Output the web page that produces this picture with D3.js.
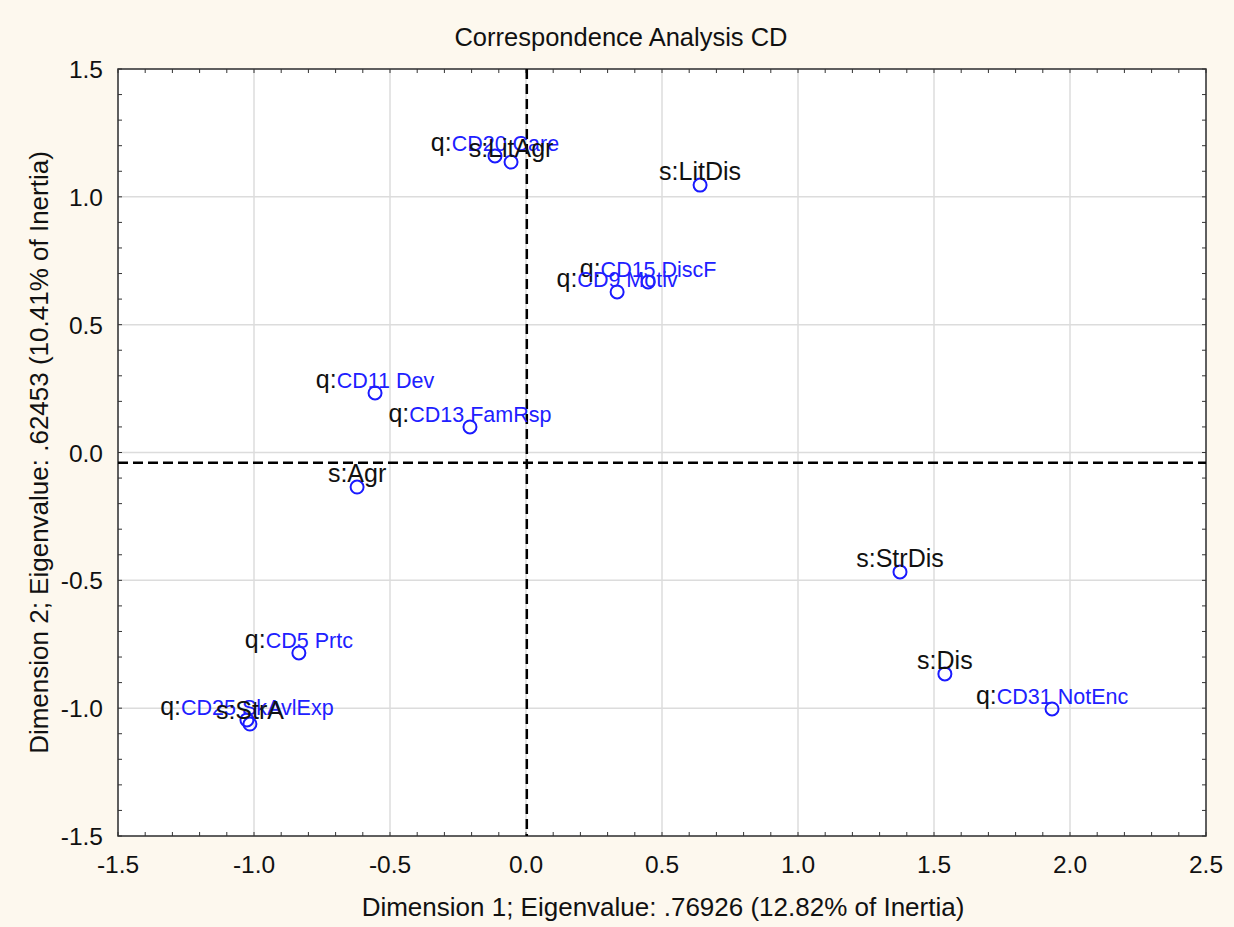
<!DOCTYPE html>
<html>
<head>
<meta charset="utf-8">
<script src="https://cdn.jsdelivr.net/npm/d3@7"></script>
<style>
  body { margin: 0; background: #fdf8ee; }
  svg { display: block; font-family: "Liberation Sans", Arial, sans-serif; }
</style>
</head>
<body>
<svg id="chart" width="1234" height="927"></svg>
<script>
'use strict';

// points: prefix, name, dim1, dim2
var prefixes = ['q:', 's:', 's:', 'q:', 'q:', 'q:', 'q:', 's:', 's:', 's:', 'q:', 'q:', 'q:', 's:'];
var names = ['CD20 Care', 'LitAgr', 'LitDis', 'CD15 DiscF', 'CD9 Motiv', 'CD11 Dev', 'CD13 FamRsp',
  'Agr', 'StrDis', 'Dis', 'CD31 NotEnc', 'CD5 Prtc', 'CD25 SkAvlExp', 'StrA'];
var dim1 = [-0.114, -0.055, 0.640, 0.449, 0.335, -0.555, -0.206, -0.621, 1.375, 1.540, 1.934, -0.835, -1.026, -1.015];
var dim2 = [1.160, 1.136, 1.046, 0.667, 0.628, 0.233, 0.100, -0.135, -0.467, -0.866, -1.003, -0.784, -1.046, -1.062];

var xTicks = [-1.5, -1.0, -0.5, 0.0, 0.5, 1.0, 1.5, 2.0, 2.5];
var yTicks = [-1.5, -1.0, -0.5, 0.0, 0.5, 1.0, 1.5];
var refX = 0.003, refY = -0.040;

(function() {
var svg = d3.select('#chart');
var pLeft = 118, pRight = 1206, pTop = 69, pBottom = 836;

var x = d3.scaleLinear().domain([-1.5, 2.5]).range([pLeft, pRight]);
var y = d3.scaleLinear().domain([-1.5, 1.5]).range([pBottom, pTop]);

svg.append('rect')
  .attr('x', pLeft).attr('y', pTop)
  .attr('width', pRight - pLeft).attr('height', pBottom - pTop)
  .attr('fill', '#fff');

// grid
svg.append('g').selectAll('line').data(xTicks).enter().append('line')
  .attr('x1', function(d) { return x(d); }).attr('x2', function(d) { return x(d); })
  .attr('y1', pTop).attr('y2', pBottom)
  .attr('stroke', '#dcdcdc').attr('stroke-width', 1.5);
svg.append('g').selectAll('line').data(yTicks).enter().append('line')
  .attr('y1', function(d) { return y(d); }).attr('y2', function(d) { return y(d); })
  .attr('x1', pLeft).attr('x2', pRight)
  .attr('stroke', '#dcdcdc').attr('stroke-width', 1.5);

// inner ticks on all sides
var xMinor = d3.range(-15, 26).map(function(i) { return i / 10; });
var yMinor = d3.range(-15, 16).map(function(i) { return i / 10; });
[pBottom, pTop].forEach(function(py) {
  var dir = py === pBottom ? -1 : 1;
  svg.append('g').selectAll('line').data(xMinor).enter().append('line')
    .attr('x1', function(d) { return x(d); }).attr('x2', function(d) { return x(d); })
    .attr('y1', py).attr('y2', py + dir * 4)
    .attr('stroke', '#333');
});
[pLeft, pRight].forEach(function(px) {
  var dir = px === pLeft ? 1 : -1;
  svg.append('g').selectAll('line').data(yMinor).enter().append('line')
    .attr('y1', function(d) { return y(d); }).attr('y2', function(d) { return y(d); })
    .attr('x1', px).attr('x2', px + dir * 4)
    .attr('stroke', '#333');
});

svg.append('rect')
  .attr('x', pLeft).attr('y', pTop)
  .attr('width', pRight - pLeft).attr('height', pBottom - pTop)
  .attr('fill', 'none').attr('stroke', '#333').attr('stroke-width', 1.5);

// reference dashed lines
svg.append('line')
  .attr('x1', x(refX)).attr('x2', x(refX)).attr('y1', pTop).attr('y2', pBottom)
  .attr('stroke', '#000').attr('stroke-width', 2.5).attr('stroke-dasharray', '10,5');
svg.append('line')
  .attr('x1', pLeft).attr('x2', pRight).attr('y1', y(refY)).attr('y2', y(refY))
  .attr('stroke', '#000').attr('stroke-width', 2.5).attr('stroke-dasharray', '10,5');

// tick labels
var fmt = function(d) { return d3.format('.1f')(d).replace('\u2212', '-'); };
svg.append('g').selectAll('text').data(xTicks).enter().append('text')
  .attr('x', function(d) { return x(d); }).attr('y', pBottom + 37)
  .attr('text-anchor', 'middle').attr('font-size', 24.5).attr('fill', '#111')
  .text(fmt);
svg.append('g').selectAll('text').data(yTicks).enter().append('text')
  .attr('x', pLeft - 15).attr('y', function(d) { return y(d) + 9; })
  .attr('text-anchor', 'end').attr('font-size', 24.5).attr('fill', '#111')
  .text(fmt);

// titles
svg.append('text')
  .attr('x', 621).attr('y', 46).attr('text-anchor', 'middle')
  .attr('font-size', 25.5).attr('fill', '#111')
  .text('Correspondence Analysis CD');
svg.append('text')
  .attr('x', 663).attr('y', 916).attr('text-anchor', 'middle')
  .attr('font-size', 26).attr('fill', '#111')
  .text('Dimension 1; Eigenvalue: .76926 (12.82% of Inertia)');
svg.append('text')
  .attr('transform', 'translate(48,' + ((pTop + pBottom) / 2) + ') rotate(-90)')
  .attr('text-anchor', 'middle').attr('font-size', 26).attr('fill', '#111')
  .text('Dimension 2; Eigenvalue: .62453 (10.41% of Inertia)');

// points
var pts = names.map(function(n, i) {
  return { prefix: prefixes[i], name: n, d1: dim1[i], d2: dim2[i] };
});

var g = svg.append('g');
g.selectAll('circle').data(pts).enter().append('circle')
  .attr('cx', function(d) { return x(d.d1); })
  .attr('cy', function(d) { return y(d.d2); })
  .attr('r', 6.5)
  .attr('fill', 'none').attr('stroke', '#1a1aff').attr('stroke-width', 2);

var lab = g.selectAll('text').data(pts).enter().append('text')
  .attr('x', function(d) { return x(d.d1); })
  .attr('y', function(d) { return y(d.d2) - 5; })
  .attr('text-anchor', 'middle');
lab.append('tspan')
  .attr('font-size', 25).attr('fill', '#111')
  .text(function(d) { return d.prefix; });
lab.append('tspan')
  .attr('font-size', function(d) { return d.prefix === 'q:' ? 21.5 : 25; })
  .attr('fill', function(d) { return d.prefix === 'q:' ? '#2020ff' : '#111'; })
  .text(function(d) { return d.name; });
})();
</script>
</body>
</html>
